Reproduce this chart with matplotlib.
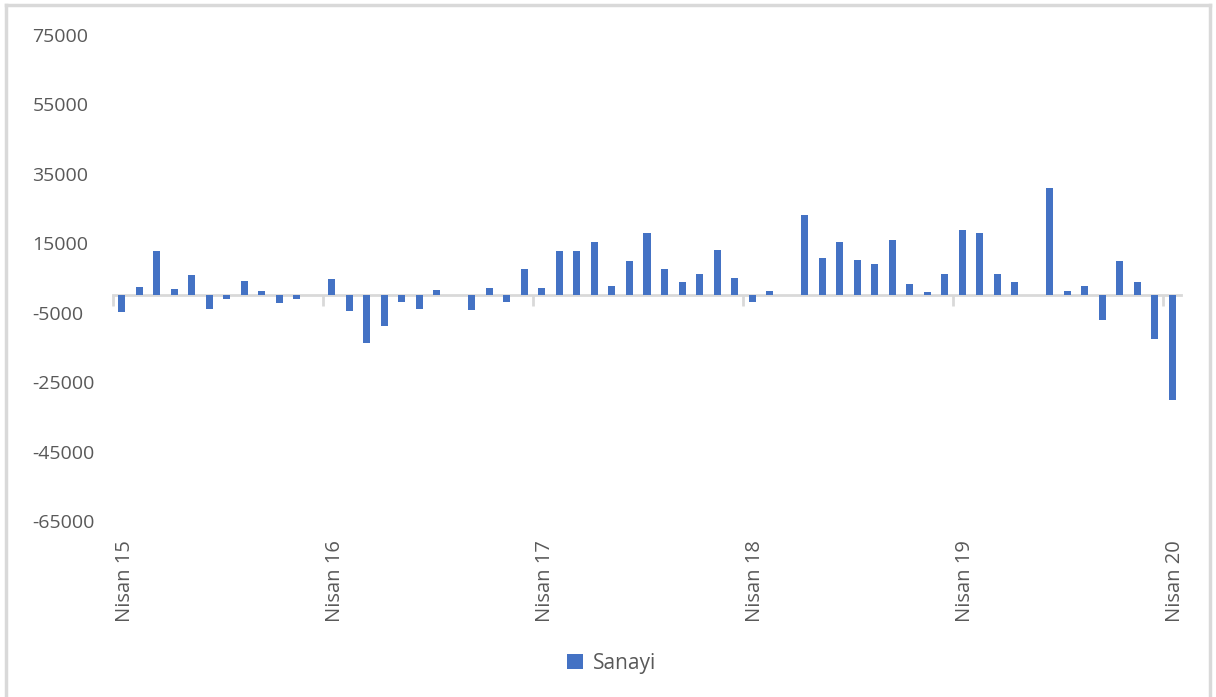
import numpy as np
import matplotlib.pyplot as plt
from matplotlib.lines import Line2D
from matplotlib.transforms import ScaledTranslation

# monthly values, Nisan 15 .. Nisan 20 (61 months)
sanayi = [
    -4900, 2500, 12800, 1700, 5800, -3800, -1100, 4200, 1300, -2300, -1000, 0,
    4600, -4500, -13700, -8900, -1900, -3800, 1600, 0, -4100, 2100, -1900, 7700,
    2100, 12800, 12800, 15400, 2800, 9800, 18000, 7700, 3800, 6100, 13200, 5100,
    -1900, 1300, 0, 23100, 10900, 15400, 10300, 9100, 16000, 3200, 1000, 6100,
    18700, 18000, 6100, 3900, 0, 30800, 1300, 2800, -7100, 9800, 3900, -12700,
    -30000,
]
year_labels = ["Nisan 15", "Nisan 16", "Nisan 17", "Nisan 18", "Nisan 19", "Nisan 20"]
y_ticks = [-65000, -45000, -25000, -5000, 15000, 35000, 55000, 75000]

text_color = "#595959"
bar_color = "#4472C4"
plt.rcParams["font.family"] = ["Open Sans", "DejaVu Sans"]

fig = plt.figure(figsize=(12.16, 6.97), dpi=100)
ax = fig.add_axes([113 / 1216, 1 - 521 / 697, 1068 / 1216, 486 / 697])

x = np.arange(len(sanayi))
ax.bar(x, sanayi, width=0.4, color=bar_color, label="Sanayi", zorder=3)

ax.set_xlim(-0.5, len(sanayi) - 0.5)
ax.set_ylim(y_ticks[0], y_ticks[-1])

# horizontal axis sits on zero, tick marks between years
for s in ["top", "right", "left"]:
    ax.spines[s].set_visible(False)
ax.spines["bottom"].set_position(("data", 0))
ax.spines["bottom"].set_color("#D9D9D9")
ax.spines["bottom"].set_linewidth(2)
ax.spines["bottom"].set_zorder(2)
ax.set_xticks(np.arange(-0.5, len(sanayi) - 1, 12))
ax.tick_params(axis="x", length=8, width=2, color="#D9D9D9", labelbottom=False)

# y labels, left aligned like the original
ax.set_yticks(y_ticks)
ax.set_yticklabels([str(v) for v in y_ticks])
ax.tick_params(axis="y", length=0, pad=58, labelsize=14, labelcolor=text_color)
for lbl in ax.get_yticklabels():
    lbl.set_horizontalalignment("left")

# category labels at bottom of plot area
sec = ax.secondary_xaxis("bottom")
sec.set_xticks(np.arange(0, len(sanayi), 12))
sec.set_xticklabels(year_labels, rotation=90, va="top", ha="center")
sec.tick_params(length=0, pad=14, labelsize=14.5, labelcolor=text_color)
sec.spines["bottom"].set_visible(False)
shift = ScaledTranslation(3 / 100, 0, fig.dpi_scale_trans)
for lbl in sec.get_xticklabels():
    lbl.set_transform(lbl.get_transform() + shift)

ax.legend(loc="center", bbox_to_anchor=(612 / 1216, 1 - 663 / 697),
          bbox_transform=fig.transFigure, frameon=False,
          handlelength=0.75, handleheight=0.75, handletextpad=0.5,
          prop={"size": 15}, labelcolor=text_color)

# chart border
border = "#D9D9D9"
fig.add_artist(Line2D([6 / 1216, 6 / 1216], [0, 1 - 5 / 697], color=border, lw=2.5, transform=fig.transFigure))
fig.add_artist(Line2D([6 / 1216, 1210 / 1216], [1 - 5 / 697, 1 - 5 / 697], color=border, lw=2.5, transform=fig.transFigure))
fig.add_artist(Line2D([1210 / 1216, 1210 / 1216], [0, 1 - 5 / 697], color=border, lw=2.5, transform=fig.transFigure))

fig.savefig("out.png", dpi=100)
